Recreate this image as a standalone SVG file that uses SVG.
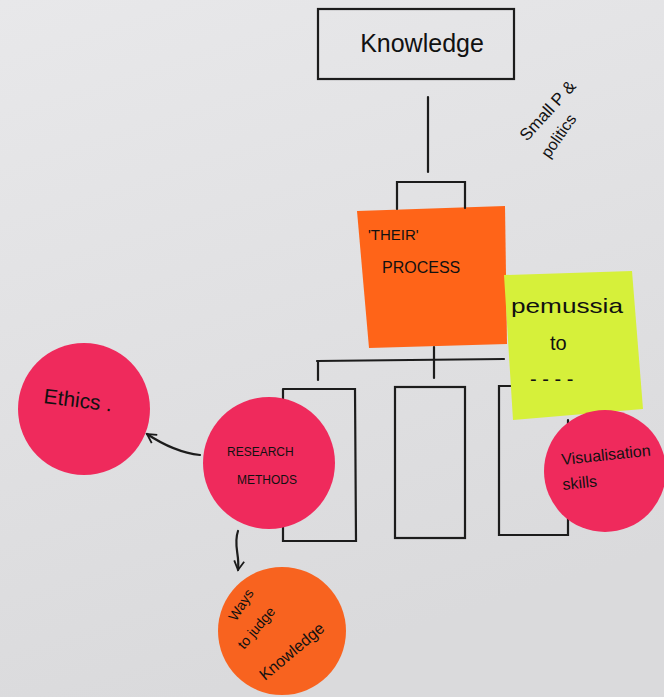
<svg xmlns="http://www.w3.org/2000/svg" width="664" height="697" viewBox="0 0 664 697">
<defs>
<linearGradient id="bg" x1="0" y1="0" x2="0.3" y2="1">
<stop offset="0" stop-color="#e8e8ea"/>
<stop offset="1" stop-color="#dadadc"/>
</linearGradient>
<marker id="arr" viewBox="0 0 12 12" refX="10" refY="6" markerWidth="12" markerHeight="12" markerUnits="userSpaceOnUse" orient="auto">
<path d="M1,1 L10,6 L1,11" fill="none" stroke="#1a1a1a" stroke-width="1.8"/>
</marker>
</defs>
<style>
.ln{fill:none;stroke:#1c1c1c;stroke-width:2.2;stroke-linecap:round}
.t{font-family:"Liberation Sans","Open Sans",sans-serif;fill:#111}
.pink{fill:#ef2a5c}
</style>
<rect width="664" height="697" fill="url(#bg)"/>

<g id="knowledge">
<rect x="318" y="9" width="196" height="70" class="ln"/>
<text class="t" x="422" y="52" font-size="25" text-anchor="middle">Knowledge</text>
</g>

<g id="small-p-politics">
<text class="t" font-size="17" transform="translate(527,142) rotate(-48)">Small P &amp;</text>
<text class="t" font-size="16" transform="translate(549,159) rotate(-55)">politics</text>
</g>

<g id="box-1">
<polyline points="283,389 355,389 356,541 283,541 283,389" class="ln"/>
</g>
<g id="box-2">
<rect x="395" y="387" width="70" height="151" class="ln"/>
</g>
<g id="box-3">
<polyline points="512,386 499,386 499,535 568,535 568,420" class="ln"/>
</g>

<g id="their-process">
<polygon points="357,211 505,206 507,344 369,348" fill="#ff6418"/>
<text class="t" x="368" y="240" font-size="15">'THEIR'</text>
<text class="t" x="382" y="273" font-size="16">PROCESS</text>
</g>

<g id="permission">
<polygon points="504,275 632,271 643,409 513,420" fill="#d6f03a"/>
<text class="t" x="511" y="313" font-size="21" textLength="112" lengthAdjust="spacingAndGlyphs">pemussia</text>
<text class="t" x="550" y="350" font-size="20">to</text>
<text class="t" x="530" y="386" font-size="20">- - - -</text>
</g>

<g id="ethics">
<circle cx="84" cy="409" r="66" class="pink"/>
<text class="t" font-size="21" transform="translate(43,403) rotate(7)">Ethics .</text>
</g>

<g id="research-methods">
<circle cx="269" cy="463" r="66" class="pink"/>
<text class="t" x="227" y="456" font-size="12">RESEARCH</text>
<text class="t" x="237" y="484" font-size="12">METHODS</text>
</g>

<g id="visualisation-skills">
<circle cx="605" cy="471" r="61" class="pink"/>
<text class="t" font-size="16" transform="translate(562,465) rotate(-6)">Visualisation</text>
<text class="t" font-size="16" transform="translate(563,490) rotate(-6)">skills</text>
</g>

<g id="ways-to-judge">
<circle cx="282" cy="631" r="64" fill="#f8631f"/>
<text class="t" font-size="14" transform="translate(236,622) rotate(-58)">Ways</text>
<text class="t" font-size="14" transform="translate(244,650) rotate(-50)">to judge</text>
<text class="t" font-size="16" transform="translate(265,681) rotate(-40)">Knowledge</text>
</g>

<g id="connectors">
<line x1="428" y1="97" x2="428" y2="172" class="ln"/>
<polyline points="397,209 397,182 465,182 465,208" class="ln"/>
<line x1="317" y1="361" x2="504" y2="359" class="ln"/>
<line x1="434" y1="347" x2="434" y2="378" class="ln"/>
<line x1="318" y1="361" x2="318" y2="380" class="ln"/>
<path d="M200,455 C182,453 165,446 147,434" class="ln" marker-end="url(#arr)"/>
<path d="M238,531 C233,545 240,555 238,570" class="ln" marker-end="url(#arr)"/>
</g>
</svg>
